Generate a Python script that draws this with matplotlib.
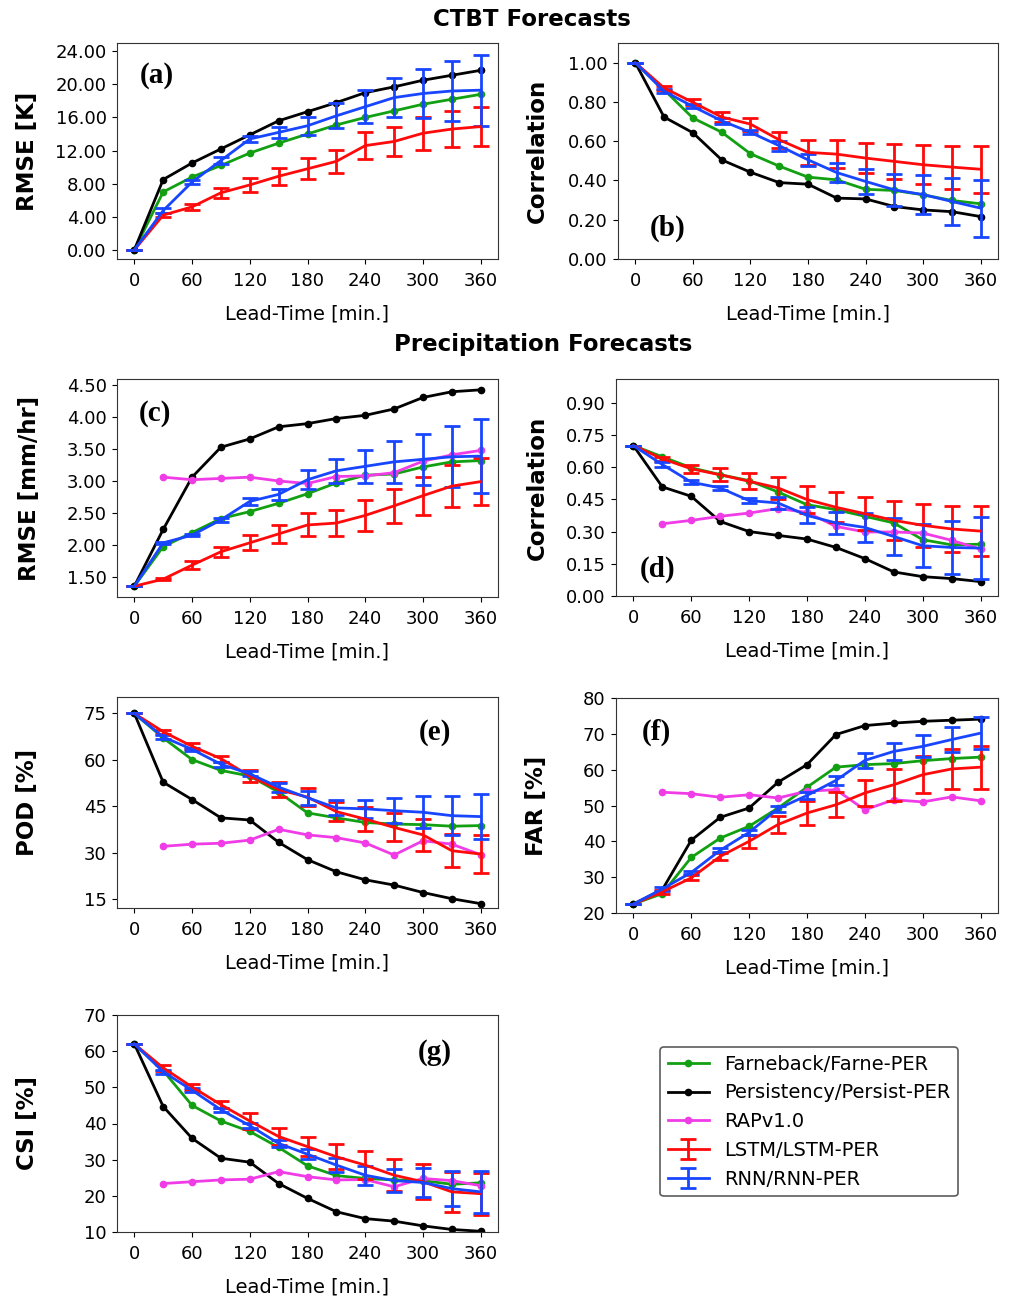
import numpy as np
import matplotlib.pyplot as plt
from matplotlib.ticker import FormatStrFormatter

lead = [0, 30, 60, 90, 120, 150, 180, 210, 240, 270, 300, 330, 360]
lead_rap = lead[1:]

# (a) CTBT RMSE [K]
a_farne = [0, 7.0, 8.8, 10.2, 11.7, 12.9, 14.0, 15.1, 16.0, 16.8, 17.6, 18.2, 18.8]
a_persist = [0, 8.5, 10.5, 12.2, 13.9, 15.6, 16.7, 17.8, 19.0, 19.7, 20.5, 21.1, 21.7]
a_lstm = [0, 4.2, 5.2, 6.9, 7.85, 8.9, 9.8, 10.7, 12.6, 13.1, 14.1, 14.6, 14.9]
a_lstm_err = [0, 0.2, 0.35, 0.6, 0.8, 1.0, 1.25, 1.4, 1.6, 1.8, 2.0, 2.2, 2.4]
a_rnn = [0, 4.75, 8.2, 10.8, 13.4, 14.2, 15.0, 16.2, 17.3, 18.4, 18.9, 19.2, 19.3]
a_rnn_err = [0, 0.3, 0.2, 0.4, 0.4, 0.7, 1.1, 1.5, 2.0, 2.4, 3.0, 3.6, 4.3]

# (b) CTBT correlation
b_farne = [1.0, 0.862, 0.718, 0.646, 0.536, 0.473, 0.417, 0.403, 0.355, 0.349, 0.327, 0.298, 0.281]
b_persist = [1.0, 0.723, 0.643, 0.505, 0.442, 0.389, 0.381, 0.31, 0.306, 0.267, 0.25, 0.241, 0.216]
b_lstm = [1.0, 0.871, 0.798, 0.723, 0.687, 0.607, 0.543, 0.534, 0.514, 0.497, 0.48, 0.468, 0.457]
b_lstm_err = [0, 0.01, 0.015, 0.027, 0.033, 0.04, 0.065, 0.07, 0.078, 0.09, 0.1, 0.11, 0.12]
b_rnn = [1.0, 0.854, 0.777, 0.704, 0.645, 0.577, 0.505, 0.44, 0.395, 0.352, 0.328, 0.293, 0.259]
b_rnn_err = [0, 0.01, 0.01, 0.015, 0.01, 0.025, 0.03, 0.05, 0.065, 0.08, 0.1, 0.12, 0.145]

# (c) precipitation RMSE [mm/hr]
c_farne = [1.35, 1.97, 2.19, 2.41, 2.52, 2.65, 2.80, 2.97, 3.09, 3.11, 3.22, 3.30, 3.32]
c_persist = [1.35, 2.24, 3.06, 3.53, 3.66, 3.85, 3.90, 3.98, 4.03, 4.13, 4.31, 4.40, 4.43]
c_rap = [3.06, 3.02, 3.04, 3.06, 3.0, 2.96, 3.07, 3.08, 3.13, 3.31, 3.41, 3.48]
c_lstm = [1.35, 1.46, 1.68, 1.89, 2.03, 2.17, 2.31, 2.34, 2.46, 2.61, 2.77, 2.92, 2.99]
c_lstm_err = [0, 0.02, 0.06, 0.08, 0.12, 0.14, 0.18, 0.2, 0.24, 0.27, 0.3, 0.33, 0.37]
c_rnn = [1.35, 2.03, 2.15, 2.39, 2.68, 2.79, 3.02, 3.16, 3.23, 3.30, 3.34, 3.38, 3.39]
c_rnn_err = [0, 0.02, 0.02, 0.03, 0.05, 0.09, 0.15, 0.19, 0.26, 0.33, 0.4, 0.48, 0.58]

# (d) precipitation correlation
d_farne = [0.70, 0.648, 0.597, 0.565, 0.537, 0.484, 0.425, 0.402, 0.371, 0.34, 0.262, 0.238, 0.241]
d_persist = [0.70, 0.508, 0.464, 0.347, 0.30, 0.282, 0.265, 0.226, 0.174, 0.112, 0.09, 0.081, 0.067]
d_rap = [0.336, 0.352, 0.371, 0.386, 0.407, 0.389, 0.324, 0.298, 0.298, 0.293, 0.259, 0.218]
d_lstm = [0.70, 0.639, 0.592, 0.564, 0.534, 0.503, 0.449, 0.413, 0.383, 0.352, 0.329, 0.312, 0.302]
d_lstm_err = [0, 0.01, 0.02, 0.03, 0.037, 0.053, 0.062, 0.07, 0.078, 0.091, 0.099, 0.109, 0.118]
d_rnn = [0.70, 0.612, 0.53, 0.503, 0.444, 0.433, 0.375, 0.34, 0.319, 0.277, 0.234, 0.226, 0.223]
d_rnn_err = [0, 0.01, 0.01, 0.01, 0.013, 0.027, 0.037, 0.05, 0.066, 0.086, 0.1, 0.122, 0.146]

# (e) POD [%]
e_farne = [75, 67.1, 60.1, 56.6, 54.8, 49.6, 42.9, 41.3, 39.8, 39.3, 39.1, 38.6, 38.8]
e_persist = [75, 52.8, 47.2, 41.3, 40.6, 33.4, 27.8, 23.9, 21.3, 19.6, 17.2, 15.2, 13.6]
e_rap = [32.1, 32.8, 33.1, 34.1, 37.6, 35.8, 34.9, 33.2, 29.3, 33.9, 32.8, 29.4]
e_lstm = [75, 69.1, 64.4, 60.4, 54.8, 50.4, 48.0, 43.3, 40.9, 38.2, 35.8, 30.7, 29.6]
e_lstm_err = [0, 0.7, 1.0, 1.0, 1.9, 2.5, 3.0, 3.0, 3.8, 4.5, 5.1, 5.4, 6.0]
e_rnn = [75, 67.4, 63.4, 58.6, 55.5, 51.2, 47.8, 44.5, 44.2, 43.6, 43.1, 42.0, 41.7]
e_rnn_err = [0, 0.5, 0.5, 0.8, 0.8, 1.5, 2.2, 2.4, 3.0, 4.1, 5.2, 6.2, 7.2]

# (f) FAR [%]
f_farne = [22.5, 25.4, 35.5, 40.9, 44.2, 49.3, 55.1, 60.7, 61.4, 61.7, 62.5, 63.1, 63.5]
f_persist = [22.5, 26.5, 40.3, 46.7, 49.3, 56.5, 61.4, 69.8, 72.3, 73.0, 73.5, 73.8, 74.1]
f_rap = [53.7, 53.3, 52.3, 53.0, 52.1, 54.0, 54.4, 48.8, 51.6, 51.0, 52.4, 51.3]
f_lstm = [22.5, 25.9, 29.8, 35.8, 40.0, 44.7, 47.9, 50.2, 53.5, 55.8, 58.6, 60.2, 60.7]
f_lstm_err = [0, 0.6, 0.7, 1.0, 1.8, 2.5, 3.3, 3.5, 3.7, 4.5, 5.1, 5.5, 6.0]
f_rnn = [22.5, 26.7, 31.3, 37.5, 42.5, 49.1, 52.8, 57.0, 62.6, 65.1, 66.5, 68.4, 70.2]
f_rnn_err = [0, 0.5, 0.5, 0.6, 0.7, 0.8, 1.0, 1.3, 2.0, 2.3, 3.1, 3.6, 4.5]

# (g) CSI [%]
g_farne = [62, 54.6, 45.0, 40.7, 37.8, 33.4, 28.3, 25.6, 24.8, 24.4, 24.2, 23.2, 23.6]
g_persist = [62, 44.7, 35.9, 30.4, 29.3, 23.4, 19.3, 15.6, 13.7, 13.0, 11.7, 10.7, 10.2]
g_rap = [23.4, 23.9, 24.4, 24.6, 26.7, 25.3, 24.4, 24.5, 22.5, 24.8, 24.2, 22.8]
g_lstm = [62, 55.4, 50.1, 45.2, 40.7, 36.4, 33.6, 30.8, 28.5, 25.7, 23.9, 21.1, 20.6]
g_lstm_err = [0, 0.9, 0.9, 1.0, 2.1, 2.4, 2.7, 3.4, 3.8, 4.4, 4.9, 5.6, 5.8]
g_rnn = [62, 54.3, 49.2, 43.8, 39.4, 34.5, 31.5, 28.5, 25.7, 24.2, 23.7, 22.0, 21.1]
g_rnn_err = [0, 0.5, 0.5, 0.6, 0.7, 1.0, 1.4, 2.0, 2.6, 3.2, 3.9, 4.8, 5.8]

GREEN = '#12a012'
BLACK = '#000000'
MAGENTA = '#f03ce6'
RED = '#ff0a0a'
BLUE = '#1846ff'

plt.rcParams['font.family'] = 'DejaVu Sans'
plt.rcParams['font.size'] = 13
plt.rcParams['xtick.major.pad'] = 6
plt.rcParams['ytick.major.pad'] = 4

fig = plt.figure(figsize=(10.12, 12.97), dpi=100)
W, H = 1012, 1297


def add_ax(left, top, right, bottom):
    return fig.add_axes([left / W, 1 - bottom / H, (right - left) / W, (bottom - top) / H])


def draw(ax, farne, persist, lstm, lstm_err, rnn, rnn_err, rap=None):
    kw = dict(lw=2, marker='o', markersize=4.5)
    ax.plot(lead, farne, color=GREEN, label='Farneback/Farne-PER', **kw)
    ax.plot(lead, persist, color=BLACK, label='Persistency/Persist-PER', **kw)
    if rap is not None:
        ax.plot(lead_rap, rap, color=MAGENTA, label='RAPv1.0', **kw)
    ax.errorbar(lead, lstm, yerr=lstm_err, color=RED, lw=2, capsize=5.5,
                capthick=2, elinewidth=2, label='LSTM/LSTM-PER')
    ax.errorbar(lead, rnn, yerr=rnn_err, color=BLUE, lw=2, capsize=5.5,
                capthick=2, elinewidth=2, label='RNN/RNN-PER')
    ax.set_xticks(range(0, 361, 60))
    ax.set_xlim(-18, 378)
    ax.set_xlabel('Lead-Time [min.]', fontsize=14, labelpad=10)
    for s in ax.spines.values():
        s.set_color('#333333')


def tag(ax, text, x, y):
    ax.text(x, y, text, transform=ax.transAxes, ha='center', va='center',
            fontsize=21, fontweight='bold', family='Liberation Serif')


def ylabel(ax, text, xpos):
    ax.set_ylabel(text, fontsize=16.5, fontweight='bold', va='center')
    ax.yaxis.set_label_coords(xpos, 0.5)


ax = add_ax(117, 43, 498, 259)
draw(ax, a_farne, a_persist, a_lstm, a_lstm_err, a_rnn, a_rnn_err)
ax.set_ylim(-1.1, 25.0)
ax.set_yticks(np.arange(0, 25, 4))
ax.yaxis.set_major_formatter(FormatStrFormatter('%.2f'))
ylabel(ax, 'RMSE [K]', -0.236)
tag(ax, '(a)', 0.105, 0.85)

ax = add_ax(618, 43, 998, 259)
draw(ax, b_farne, b_persist, b_lstm, b_lstm_err, b_rnn, b_rnn_err)
ax.set_ylim(0, 1.1)
ax.set_yticks(np.arange(0, 1.01, 0.2))
ax.yaxis.set_major_formatter(FormatStrFormatter('%.2f'))
ylabel(ax, 'Correlation', -0.213)
tag(ax, '(b)', 0.13, 0.14)

ax = add_ax(117, 379, 498, 597)
draw(ax, c_farne, c_persist, c_lstm, c_lstm_err, c_rnn, c_rnn_err, c_rap)
ax.set_ylim(1.18, 4.6)
ax.set_yticks(np.arange(1.5, 4.51, 0.5))
ax.yaxis.set_major_formatter(FormatStrFormatter('%.2f'))
ylabel(ax, 'RMSE [mm/hr]', -0.23)
tag(ax, '(c)', 0.1, 0.84)
handles, labels = ax.get_legend_handles_labels()

ax = add_ax(616, 379, 998, 596)
draw(ax, d_farne, d_persist, d_lstm, d_lstm_err, d_rnn, d_rnn_err, d_rap)
ax.set_ylim(0, 1.01)
ax.set_yticks(np.arange(0, 0.91, 0.15))
ax.yaxis.set_major_formatter(FormatStrFormatter('%.2f'))
ylabel(ax, 'Correlation', -0.207)
tag(ax, '(d)', 0.11, 0.125)

ax = add_ax(117, 697, 498, 908)
draw(ax, e_farne, e_persist, e_lstm, e_lstm_err, e_rnn, e_rnn_err, e_rap)
ax.set_ylim(12.2, 80.3)
ax.set_yticks(np.arange(15, 76, 15))
ylabel(ax, 'POD [%]', -0.236)
tag(ax, '(e)', 0.835, 0.83)

ax = add_ax(616, 698, 998, 913)
draw(ax, f_farne, f_persist, f_lstm, f_lstm_err, f_rnn, f_rnn_err, f_rap)
ax.set_ylim(20, 80)
ax.set_yticks(np.arange(20, 81, 10))
ylabel(ax, 'FAR [%]', -0.207)
tag(ax, '(f)', 0.105, 0.84)

ax = add_ax(117, 1015, 498, 1232)
draw(ax, g_farne, g_persist, g_lstm, g_lstm_err, g_rnn, g_rnn_err, g_rap)
ax.set_ylim(10, 70)
ax.set_yticks(np.arange(10, 71, 10))
ylabel(ax, 'CSI [%]', -0.236)
tag(ax, '(g)', 0.835, 0.825)

fig.text(532 / W, 1 - 19 / H, 'CTBT Forecasts', ha='center', va='center',
         fontsize=16.5, fontweight='bold')
fig.text(543 / W, 1 - 345 / H, 'Precipitation Forecasts', ha='center', va='center',
         fontsize=16.5, fontweight='bold')

leg = fig.legend(handles, labels, loc='upper left', bbox_to_anchor=(660 / W, 1 - 1047 / H),
                 fontsize=14, frameon=True, borderaxespad=0, handlelength=2.1,
                 labelspacing=0.5)
leg.get_frame().set_edgecolor('#333333')
leg.get_frame().set_linewidth(1.2)

plt.savefig('out.png', dpi=100)
